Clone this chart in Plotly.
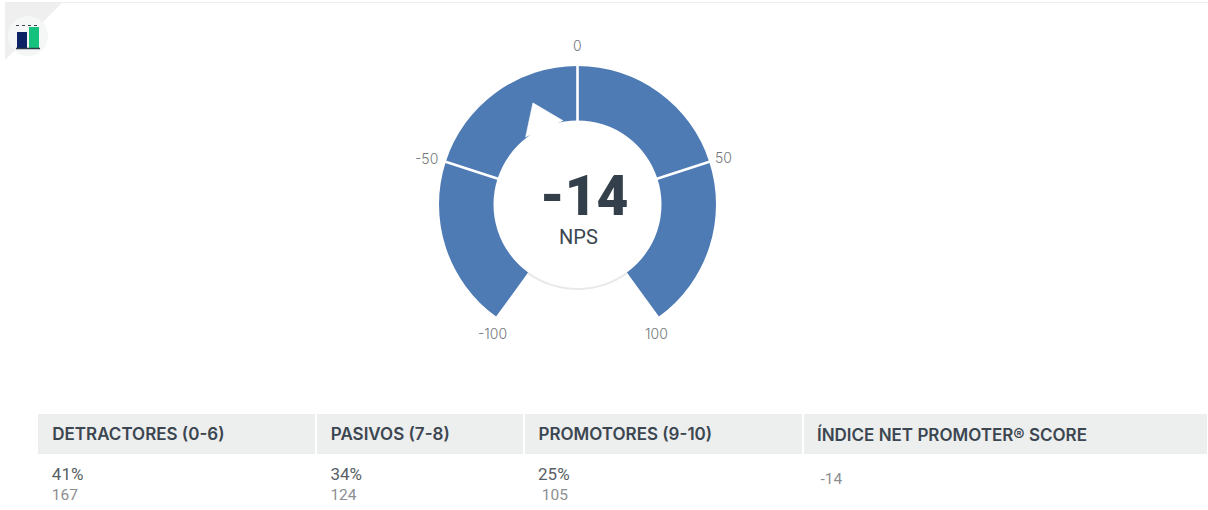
import math
import plotly.graph_objects as go

W, H = 1208, 510

# ---- data ----
nps_value = -14
band_starts = [-100, -50, 0, 50]
band_size = 50
scale_ticks = [-100, -50, 0, 50, 100]
needle_angle_deg = -23.7
headers = ["DETRACTORES (0-6)", "PASIVOS (7-8)", "PROMOTORES (9-10)", "ÍNDICE NET PROMOTER® SCORE"]
percents = ["41%", "34%", "25%"]
counts = ["167", "124", "105"]
score_cell = "-14"

# ---- styling ----
BLUE = "#4f7bb5"
DEG_PER_UNIT = 288 / 200
R_IN, R_OUT = 84, 138.5
cx, cy = 577.5, 204.5
label_radius = {-100: 152, -50: 158, 0: 158, 50: 154, 100: 152}
label_nudge = {-100: (4, 6), -50: (-1, 3), 0: (0, -1), 50: (0, 1), 100: (-10, 6)}
col_edges = [38, 317, 525, 804, 1207]
HEAD_TOP, HEAD_BOTTOM = 414, 454
TEXT_DROP = 2
TEXT_SHIFT = 2
NB = "&nbsp;"


def deg(v):
    return v * DEG_PER_UNIT


fig = go.Figure()

# ring
fig.add_trace(go.Barpolar(
    theta=[deg(s + band_size / 2) for s in band_starts],
    width=[deg(band_size)] * len(band_starts),
    base=[R_IN] * len(band_starts),
    r=[R_OUT - R_IN] * len(band_starts),
    marker=dict(color=BLUE, line=dict(width=0)),
    hoverinfo="skip",
))
# soft edge of the centre disc, in the open part of the dial
fig.add_trace(go.Barpolar(
    theta=[180], width=[deg(50)], base=[R_IN - 0.5], r=[2],
    marker=dict(color="#e9e9e9", line=dict(width=0)), hoverinfo="skip",
))
# dividers
for t in scale_ticks[1:-1]:
    fig.add_trace(go.Scatterpolar(
        theta=[deg(t), deg(t)], r=[R_IN - 2, R_OUT + 1], mode="lines",
        line=dict(color="white", width=2.6), hoverinfo="skip",
    ))
# needle
fig.add_trace(go.Scatterpolar(
    theta=[needle_angle_deg - 14, needle_angle_deg, needle_angle_deg + 14],
    r=[R_IN + 1, 111, R_IN + 1], mode="lines", fill="toself",
    fillcolor="white", line=dict(color="white", width=0.5), hoverinfo="skip",
))

# table
GREY_DARK, GREY_LIGHT = "#585f65", "#8c8f92"
cell_vals = []
for i in range(3):
    lead_count = NB * 2 if i == 2 else NB
    cell_vals.append([f'{NB}<span style="color:{GREY_DARK};font-size:17px">{percents[i]}</span><br>'
                      f'{lead_count}<span style="color:{GREY_LIGHT}">{counts[i]}</span>'])
cell_vals.append([f'<br>{NB * 2}<span style="color:{GREY_LIGHT}">{score_cell}</span>'])

fig.add_trace(go.Table(
    domain=dict(x=[(col_edges[0] + TEXT_SHIFT) / W, col_edges[-1] / W], y=[0, (H - HEAD_TOP - TEXT_DROP) / H]),
    columnwidth=[col_edges[i + 1] - col_edges[i] for i in range(4)],
    header=dict(
        values=[NB + h for h in headers],
        fill_color="rgba(0,0,0,0)", line=dict(color="rgba(0,0,0,0)", width=0),
        align="left", height=HEAD_BOTTOM - HEAD_TOP,
        font=dict(family="Inter", size=17, color="#3b4650", weight=600),
    ),
    cells=dict(
        values=cell_vals,
        fill_color="rgba(0,0,0,0)", line=dict(color="rgba(0,0,0,0)", width=0),
        align="left", height=50,
        font=dict(family="Roboto", size=15.5, color=GREY_LIGHT),
    ),
))

annotations = [
    dict(x=584 / W, y=1 - 196 / H, xref="paper", yref="paper", showarrow=False,
         xanchor="center", yanchor="middle",
         text=str(nps_value), font=dict(family="Roboto", size=55, color="#333f4b", weight=900)),
    dict(x=578 / W, y=1 - 237 / H, xref="paper", yref="paper", showarrow=False,
         xanchor="center", yanchor="middle",
         text="NPS", font=dict(family="Roboto", size=20, color="#3b4650")),
]
for t in scale_ticks:
    a = math.radians(deg(t))
    dx, dy = label_nudge[t]
    annotations.append(dict(
        x=(cx + dx + label_radius[t] * math.sin(a)) / W,
        y=1 - (cy + dy - label_radius[t] * math.cos(a)) / H,
        xref="paper", yref="paper", showarrow=False, text=str(t),
        xanchor="center", yanchor="middle",
        font=dict(family="Inter", size=14, color="#74787c", weight=300),
    ))

shapes = [
    dict(type="line", xref="paper", yref="paper", x0=5 / W, x1=1, y0=1 - 2.5 / H, y1=1 - 2.5 / H,
         line=dict(color="#eeeeee", width=1)),
    dict(type="path", xref="paper", yref="paper", layer="below",
         path=f"M {5/W} {1-3/H} L {62/W} {1-3/H} L {5/W} {1-60/H} Z",
         fillcolor="#efefef", line=dict(width=0)),
    dict(type="circle", xref="paper", yref="paper",
         x0=8 / W, x1=48 / W, y0=1 - 56 / H, y1=1 - 16 / H,
         fillcolor="#f5f6f6", line=dict(width=0)),
    dict(type="rect", xref="paper", yref="paper", x0=17 / W, x1=27 / W, y0=1 - 48 / H, y1=1 - 32 / H,
         fillcolor="#0b2265", line=dict(width=0)),
    dict(type="rect", xref="paper", yref="paper", x0=29 / W, x1=39 / W, y0=1 - 48 / H, y1=1 - 27 / H,
         fillcolor="#14c27d", line=dict(width=0)),
    dict(type="line", xref="paper", yref="paper", x0=16 / W, x1=40 / W, y0=1 - 48.5 / H, y1=1 - 48.5 / H,
         line=dict(color="#2f3b47", width=1.5)),
    dict(type="line", xref="paper", yref="paper", x0=16 / W, x1=40 / W, y0=1 - 25.5 / H, y1=1 - 25.5 / H,
         line=dict(color="#3b4650", width=1.2, dash="dot")),
]
for i in range(4):
    shapes.append(dict(
        type="rect", xref="paper", yref="paper", layer="below",
        x0=col_edges[i] / W, x1=(col_edges[i + 1] - (2 if i < 3 else 0)) / W,
        y0=1 - HEAD_BOTTOM / H, y1=1 - HEAD_TOP / H,
        fillcolor="#edeeee", line=dict(width=0),
    ))

fig.update_layout(
    width=W, height=H, autosize=False, showlegend=False,
    margin=dict(l=0, r=0, t=0, b=0),
    paper_bgcolor="white", plot_bgcolor="white",
    font=dict(family="Roboto", color="#74787c", size=14),
    polar=dict(
        bgcolor="rgba(0,0,0,0)",
        domain=dict(x=[(cx - R_OUT - 1) / W, (cx + R_OUT + 1) / W],
                    y=[(H - cy - R_OUT - 1) / H, (H - cy + R_OUT + 1) / H]),
        radialaxis=dict(range=[0, R_OUT + 1], visible=False),
        angularaxis=dict(
            rotation=90, direction="clockwise", thetaunit="degrees",
            showticklabels=False, showgrid=False, showline=False, ticks="",
        ),
    ),
    annotations=annotations,
    shapes=shapes,
)

fig.write_html("out.html", config=dict(displayModeBar=False),
               post_script="document.body.style.margin='0';")
